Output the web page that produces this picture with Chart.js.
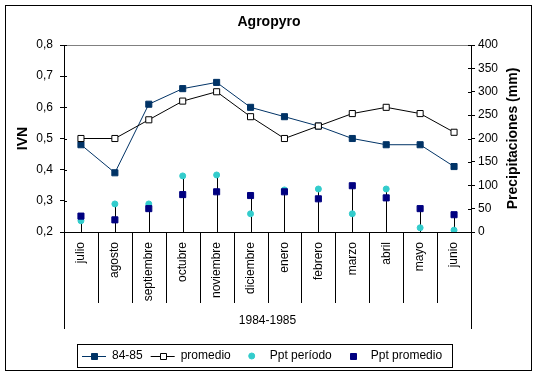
<!DOCTYPE html>
<html>
<head>
<meta charset="utf-8">
<script src="https://cdn.jsdelivr.net/npm/chart.js@4.4.1/dist/chart.umd.min.js"></script>
<style>
  html, body { margin: 0; padding: 0; background: #fff; }
  #wrap { width: 541px; height: 377px; }
</style>
</head>
<body>
<div id="wrap"><canvas id="chart" width="541" height="377"></canvas></div>
<script>
const months = ["julio", "agosto", "septiembre", "octubre", "noviembre", "diciembre", "enero", "febrero", "marzo", "abril", "mayo", "junio"];
const ivn8485 = [0.48, 0.39, 0.61, 0.66, 0.68, 0.60, 0.57, 0.54, 0.50, 0.48, 0.48, 0.41];
const ivnPromedio = [0.50, 0.50, 0.56, 0.62, 0.65, 0.57, 0.50, 0.54, 0.58, 0.60, 0.58, 0.52];
const pptPeriodo = [24, 60, 60, 120, 122, 39, 90, 92, 39, 92, 9, 4];
const pptPromedio = [34, 26, 50, 80, 86, 78, 86, 71, 99, 73, 50, 37];
const ivnTicks = ["0,2", "0,3", "0,4", "0,5", "0,6", "0,7", "0,8"];
const pptTicks = ["0", "50", "100", "150", "200", "250", "300", "350", "400"];

const FONT = 'Arial, "Liberation Sans", sans-serif';
Chart.defaults.font.family = FONT;
Chart.defaults.font.size = 12;
Chart.defaults.color = "#000";

// drop lines under the precipitation points + all the Excel-style decoration
const decor = {
  id: "decor",
  beforeDatasetsDraw(chart) {
    const { ctx, chartArea: a } = chart;
    ctx.save();
    ctx.strokeStyle = "#000";
    ctx.lineWidth = 1;
    chart.data.datasets.forEach((ds, i) => {
      if (!ds.dropLines) return;
      chart.getDatasetMeta(i).data.forEach(p => {
        const x = Math.round(p.x) + 0.5;
        ctx.beginPath();
        ctx.moveTo(x, p.y);
        ctx.lineTo(x, a.bottom);
        ctx.stroke();
      });
    });
    ctx.restore();
  },
  afterDraw(chart) {
    const { ctx, chartArea: a, scales } = chart;
    ctx.save();
    ctx.lineWidth = 1;

    // outer frame
    ctx.strokeStyle = "#000";
    ctx.strokeRect(5.5, 5.5, 526, 365);

    // grey top edge of plot area
    ctx.strokeStyle = "#808080";
    ctx.beginPath();
    ctx.moveTo(a.left, a.top + 0.5);
    ctx.lineTo(a.right, a.top + 0.5);
    ctx.stroke();

    // inner half of the crossing tick marks
    ctx.strokeStyle = "#000";
    scales.y.ticks.forEach(t => {
      const y = Math.round(scales.y.getPixelForValue(t.value)) + 0.5;
      ctx.beginPath(); ctx.moveTo(a.left, y); ctx.lineTo(a.left + 3, y); ctx.stroke();
    });
    scales.y2.ticks.forEach(t => {
      const y = Math.round(scales.y2.getPixelForValue(t.value)) + 0.5;
      ctx.beginPath(); ctx.moveTo(a.right - 3, y); ctx.lineTo(a.right, y); ctx.stroke();
    });

    // category separators below the axis
    const n = months.length;
    const w = (a.right - a.left) / n;
    for (let i = 0; i <= n; i++) {
      const x = Math.round(a.left + i * w) + 0.5;
      const end = (i === 0 || i === n) ? 329 : 303;
      ctx.beginPath(); ctx.moveTo(x, a.bottom); ctx.lineTo(x, end); ctx.stroke();
    }

    ctx.fillStyle = "#000";
    ctx.textBaseline = "middle";
    ctx.textAlign = "center";

    // group label
    ctx.font = "12px " + FONT;
    ctx.fillText("1984-1985", (a.left + a.right) / 2, 321);

    // chart title
    ctx.font = "bold 14px " + FONT;
    ctx.fillText("Agropyro", 269, 22);

    // axis titles (both read bottom to top)
    const midY = (a.top + a.bottom) / 2;
    ctx.save();
    ctx.translate(23, midY);
    ctx.rotate(-Math.PI / 2);
    ctx.fillText("IVN", 0, 0);
    ctx.restore();
    ctx.save();
    ctx.translate(513, midY);
    ctx.rotate(-Math.PI / 2);
    ctx.fillText("Precipitaciones (mm)", 0, 0);
    ctx.restore();

    // legend
    ctx.strokeStyle = "#000";
    ctx.strokeRect(77.5, 344.5, 375, 23);
    ctx.font = "12px " + FONT;
    ctx.textAlign = "left";
    const ly = 356;
    let x = 82;
    chart.data.datasets.forEach(ds => {
      if (ds.showLine !== false) {
        ctx.strokeStyle = ds.borderColor;
        ctx.beginPath(); ctx.moveTo(x, ly + 0.5); ctx.lineTo(x + 24, ly + 0.5); ctx.stroke();
        marker(ctx, ds, x + 12, ly);
        x += 30;
      } else {
        marker(ctx, ds, x + 13, ly);
        x += 31;
      }
      ctx.fillStyle = "#000";
      ctx.fillText(ds.label, x, ly);
      x += ctx.measureText(ds.label).width + 8;
    });
    ctx.restore();
  }
};

function marker(ctx, ds, x, y) {
  ctx.save();
  ctx.fillStyle = ds.pointBackgroundColor;
  ctx.strokeStyle = ds.pointBorderColor;
  ctx.lineWidth = 1;
  ctx.beginPath();
  if (ds.pointStyle === "circle") {
    ctx.arc(x, y, ds.pointRadius, 0, Math.PI * 2);
  } else {
    ctx.rect(Math.round(x) - 2.5, Math.round(y) - 2.5, 6, 6);
  }
  ctx.fill();
  ctx.stroke();
  ctx.restore();
}

new Chart(document.getElementById("chart"), {
  type: "line",
  data: {
    labels: months,
    datasets: [
      {
        label: "84-85",
        data: ivn8485,
        yAxisID: "y",
        borderColor: "#003366",
        borderWidth: 1,
        pointStyle: "rect",
        pointRadius: 4.3,
        pointBackgroundColor: "#003366",
        pointBorderColor: "#003366",
        pointBorderWidth: 1,
        tension: 0,
        order: 2
      },
      {
        label: "promedio",
        data: ivnPromedio,
        yAxisID: "y",
        borderColor: "#000000",
        borderWidth: 1,
        pointStyle: "rect",
        pointRadius: 4.3,
        pointBackgroundColor: "#ffffff",
        pointBorderColor: "#000000",
        pointBorderWidth: 1,
        tension: 0,
        order: 1
      },
      {
        label: "Ppt período",
        data: pptPeriodo,
        yAxisID: "y2",
        showLine: false,
        dropLines: true,
        borderColor: "#33cccc",
        pointStyle: "circle",
        pointRadius: 3,
        pointBackgroundColor: "#33cccc",
        pointBorderColor: "#33cccc",
        pointBorderWidth: 1,
        order: 4
      },
      {
        label: "Ppt promedio",
        data: pptPromedio,
        yAxisID: "y2",
        showLine: false,
        dropLines: true,
        borderColor: "#000080",
        pointStyle: "rect",
        pointRadius: 4.3,
        pointBackgroundColor: "#000080",
        pointBorderColor: "#000080",
        pointBorderWidth: 1,
        order: 3
      }
    ]
  },
  options: {
    responsive: false,
    animation: false,
    events: [],
    layout: { padding: { top: 45, left: 0, right: 0, bottom: 0 } },
    plugins: { legend: { display: false }, title: { display: false }, tooltip: { enabled: false } },
    scales: {
      x: {
        offset: true,
        grid: { display: false, drawTicks: false },
        border: { display: true, color: "#000", width: 1 },
        ticks: { minRotation: 90, maxRotation: 90, padding: 10, autoSkip: false, font: { size: 12 } },
        afterFit: s => { s.height = 145; }
      },
      y: {
        position: "left",
        min: 0.2,
        max: 0.8,
        grid: { drawOnChartArea: false, drawTicks: true, tickLength: 4, color: "#000" },
        border: { display: true, color: "#000", width: 1 },
        ticks: { stepSize: 0.1, padding: 7, callback: (v, i) => ivnTicks[i] },
        afterFit: s => { s.width = 64; }
      },
      y2: {
        position: "right",
        min: 0,
        max: 400,
        grid: { drawOnChartArea: false, drawTicks: true, tickLength: 4, color: "#000" },
        border: { display: true, color: "#000", width: 1 },
        ticks: { stepSize: 50, padding: 3, callback: (v, i) => pptTicks[i] },
        afterFit: s => { s.width = 70; }
      }
    }
  },
  plugins: [decor]
});
</script>
</body>
</html>
